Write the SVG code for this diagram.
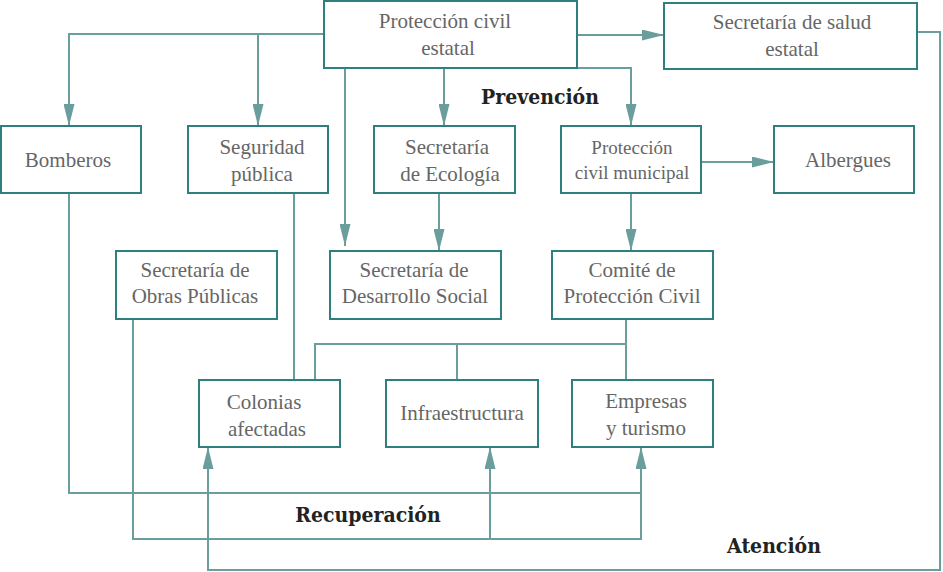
<svg xmlns="http://www.w3.org/2000/svg" width="943" height="572" viewBox="0 0 943 572">
<style>
.b{fill:#fff;stroke:#2e7f7d;stroke-width:2}
.t{font-family:"Liberation Serif","Times New Roman","DejaVu Serif Condensed",serif;font-size:21px;fill:#666;text-anchor:middle}
.l{font-family:"DejaVu Serif Condensed","DejaVu Serif",serif;font-weight:bold;font-size:21px;fill:#222;text-anchor:middle}
.c{fill:none;stroke:#6a9e9c;stroke-width:2}
</style>
<defs>
<marker id="w" viewBox="0 0 10 10" refX="10" refY="5" markerWidth="22" markerHeight="11" markerUnits="userSpaceOnUse" orient="auto" preserveAspectRatio="none"><path d="M0,0L10,5L0,10z" fill="#6a9e9c"/></marker></defs>
<g id="connectors" class="c">
<path d="M324,34H69V126" marker-end="url(#w)"/>
<path d="M258,34V126" marker-end="url(#w)"/>
<path d="M345,68V246" marker-end="url(#w)"/>
<path d="M444,68V126" marker-end="url(#w)"/>
<path d="M577,68H631V126" marker-end="url(#w)"/>
<path d="M577,35H664" marker-end="url(#w)"/>
<path d="M701,162H774" marker-end="url(#w)"/>
<path d="M631,193V251" marker-end="url(#w)"/>
<path d="M439,193V251" marker-end="url(#w)"/>
<path d="M917,32H940V570H208V447" marker-end="url(#w)"/>
<path d="M626,319V380M626,344H315V380M457,344V380"/>
<path d="M294,193V380"/>
<path d="M69,193V493H641"/>
<path d="M133,319V539H641V447" marker-end="url(#w)"/>
<path d="M490,539V447" marker-end="url(#w)"/>
</g>
<g id="n1"><rect class="b" x="324" y="1" width="253" height="67"/><text class="t" x="445" y="28">Protección civil</text><text class="t" x="448" y="55">estatal</text></g>
<g id="n2"><rect class="b" x="664" y="3" width="253" height="66"/><text class="t" x="792" y="29">Secretaría de salud</text><text class="t" x="792" y="56">estatal</text></g>
<g id="n3"><rect class="b" x="1" y="126" width="140" height="67"/><text class="t" x="68" y="167">Bomberos</text></g>
<g id="n4"><rect class="b" x="188" y="126" width="140" height="67"/><text class="t" x="262" y="154">Seguridad</text><text class="t" x="262" y="181">pública</text></g>
<g id="n5"><rect class="b" x="374" y="126" width="141" height="67"/><text class="t" x="447" y="154">Secretaría</text><text class="t" x="450" y="181">de Ecología</text></g>
<g id="n6"><rect class="b" x="561" y="126" width="140" height="67"/><text class="t" x="632" y="154" style="font-size:19px">Protección</text><text class="t" x="632" y="179" style="font-size:19px">civil municipal</text></g>
<g id="n7"><rect class="b" x="774" y="126" width="140" height="67"/><text class="t" x="848" y="167">Albergues</text></g>
<g id="n8"><rect class="b" x="116" y="251" width="161" height="68"/><text class="t" x="195" y="277">Secretaría de</text><text class="t" x="195" y="303">Obras Públicas</text></g>
<g id="n9"><rect class="b" x="330" y="251" width="171" height="68"/><text class="t" x="414" y="277">Secretaría de</text><text class="t" x="415" y="303">Desarrollo Social</text></g>
<g id="n10"><rect class="b" x="552" y="251" width="161" height="68"/><text class="t" x="632" y="277">Comité de</text><text class="t" x="632" y="303">Protección Civil</text></g>
<g id="n11"><rect class="b" x="199" y="380" width="141" height="67"/><text class="t" x="264" y="409">Colonias</text><text class="t" x="267" y="436">afectadas</text></g>
<g id="n12"><rect class="b" x="386" y="380" width="152" height="67"/><text class="t" x="462" y="420">Infraestructura</text></g>
<g id="n13"><rect class="b" x="572" y="380" width="141" height="67"/><text class="t" x="646" y="408">Empresas</text><text class="t" x="646" y="435">y turismo</text></g>
<text class="l" x="540" y="104">Prevención</text>
<text class="l" x="368" y="522">Recuperación</text>
<text class="l" x="774" y="553">Atención</text>
</svg>
